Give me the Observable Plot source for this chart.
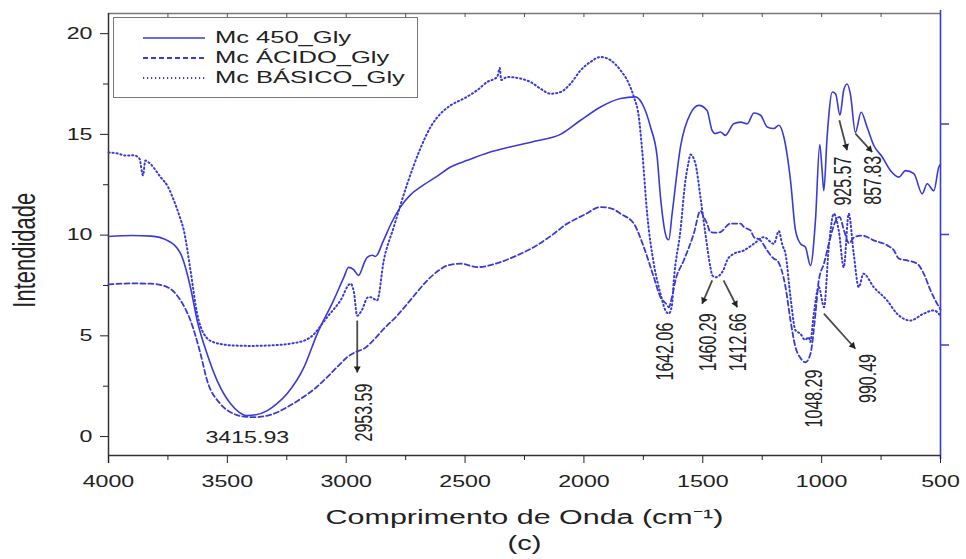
<!DOCTYPE html>
<html>
<head>
<meta charset="utf-8">
<script src="https://cdn.jsdelivr.net/npm/d3@7"></script>
<script src="https://cdn.jsdelivr.net/npm/@observablehq/plot@0.6"></script>
<style>
  body { margin: 0; background: #fff; }
  #chart { position: relative; width: 966px; height: 559px; }
  .legend { position: absolute; left: 113px; top: 17px; width: 305px; height: 81px;
            border: 1.5px solid #777; background: #fff; box-sizing: border-box;
            font-family: 'Liberation Sans', Arial, sans-serif; font-size: 17px; color: #222; }
  .legend svg { position: absolute; left: 29px; }
  .legend span { position: absolute; left: 101px; line-height: 20px; white-space: nowrap;
                 transform: scaleX(1.5); transform-origin: left center; }
</style>
</head>
<body>
<div id="chart"></div>
<script>
// FTIR spectra of the three glycerol-treated samples, [wavenumber (cm-1), intensity]
const seriesNames = ["Mc 450_Gly", "Mc ÁCIDO_Gly", "Mc BÁSICO_Gly"];

const mc450 = [
  [4000, 9.93], [3900, 9.98], [3820, 9.95], [3753, 9.74], [3697, 9.09], [3655, 7.4],
  [3627, 5.76], [3585, 4.1], [3543, 2.78], [3487, 1.64], [3450, 1.2], [3417, 1.04],
  [3380, 1.08], [3332, 1.29], [3290, 1.65], [3248, 2.14], [3178, 3.43], [3122, 5.1],
  [3053, 6.76], [3010, 7.9], [2990, 8.4], [2970, 8.3], [2948, 8.0], [2925, 8.6],
  [2912, 8.9], [2890, 9.0], [2877, 8.94], [2843, 9.74], [2810, 10.6], [2772, 11.39],
  [2730, 12.0], [2688, 12.38], [2620, 12.9], [2561, 13.38], [2491, 13.71], [2400, 14.1],
  [2337, 14.3], [2212, 14.65], [2099, 15.0], [2014, 15.7], [1930, 16.36], [1846, 16.78],
  [1783, 16.86], [1748, 16.36], [1720, 15.37], [1692, 13.88], [1678, 11.9], [1650, 9.82],
  [1643, 9.77], [1629, 11.06], [1594, 14.37], [1552, 16.03], [1517, 16.44], [1482, 16.19],
  [1461, 15.2], [1447, 15.04], [1426, 15.12], [1405, 14.95], [1370, 15.53], [1341, 15.61],
  [1313, 15.53], [1285, 16.06], [1257, 15.95], [1229, 15.37], [1201, 15.29], [1180, 15.45],
  [1159, 14.87], [1131, 12.72], [1110, 10.23], [1089, 9.57], [1068, 9.4], [1047, 8.49],
  [1026, 10.73], [1008, 14.5], [998, 13.2], [991, 12.2], [977, 14.87], [955, 17.1],
  [941, 17.0], [923, 15.95], [907, 17.2], [893, 17.5], [879, 17.0], [858, 15.1],
  [834, 16.1], [809, 15.37], [781, 14.46], [745, 13.88], [710, 13.2], [675, 12.88],
  [647, 13.2], [612, 13.05], [577, 12.05], [556, 12.55], [528, 12.2], [507, 13.38], [500, 13.5]
];

const mcAcido = [
  [4000, 7.55], [3900, 7.6], [3823, 7.59], [3753, 7.42], [3697, 6.76], [3655, 5.76],
  [3613, 4.11], [3585, 2.78], [3529, 1.62], [3473, 1.13], [3420, 0.98], [3389, 0.96],
  [3305, 1.13], [3250, 1.45], [3192, 1.87], [3130, 2.4], [3080, 2.95], [3030, 3.55],
  [2996, 3.94], [2960, 4.2], [2926, 4.36], [2880, 4.85], [2842, 5.35], [2790, 5.95],
  [2743, 6.59], [2700, 7.2], [2659, 7.75], [2610, 8.25], [2575, 8.49], [2519, 8.58],
  [2449, 8.41], [2351, 8.66], [2280, 9.0], [2211, 9.4], [2140, 9.95], [2070, 10.57],
  [2000, 11.0], [1930, 11.39], [1880, 11.3], [1846, 11.06], [1790, 10.57], [1748, 9.4],
  [1706, 7.91], [1678, 6.92], [1655, 6.6], [1643, 6.42], [1630, 6.9], [1615, 7.75],
  [1580, 8.74], [1538, 10.07], [1510, 11.2], [1496, 10.9], [1482, 10.57], [1468, 10.15],
  [1440, 10.12], [1426, 10.15], [1384, 10.57], [1341, 10.57], [1327, 10.4], [1299, 10.23],
  [1285, 9.9], [1257, 9.74], [1229, 9.24], [1201, 8.83], [1187, 8.74], [1152, 7.42],
  [1131, 5.76], [1110, 4.44], [1089, 3.9], [1068, 3.69], [1047, 4.11], [1026, 6.1],
  [1012, 7.75], [990, 8.6], [965, 9.8], [945, 10.6], [925, 10.9], [905, 10.2],
  [885, 9.6], [862, 9.9], [829, 9.98], [781, 9.74], [724, 9.49], [696, 9.24],
  [675, 8.83], [640, 8.74], [598, 8.58], [570, 8.08], [542, 7.25], [514, 6.59], [500, 6.3]
];

const mcBasico = [
  [4000, 14.1], [3960, 14.05], [3930, 13.95], [3894, 13.96], [3870, 13.8], [3855, 12.97],
  [3845, 13.7], [3830, 13.6], [3781, 12.88], [3750, 12.4], [3725, 11.72], [3700, 10.9],
  [3683, 10.23], [3655, 8.25], [3627, 6.1], [3599, 5.1], [3557, 4.68], [3473, 4.52],
  [3400, 4.5], [3332, 4.52], [3220, 4.64], [3150, 4.93], [3080, 5.93], [3024, 6.76],
  [2982, 7.59], [2968, 7.2], [2954, 6.0], [2933, 6.3], [2910, 6.9], [2898, 6.92],
  [2870, 6.76], [2842, 8.74], [2800, 10.4], [2743, 12.55], [2688, 14.3], [2645, 15.37],
  [2603, 16.03], [2561, 16.44], [2505, 16.78], [2449, 17.19], [2407, 17.6], [2365, 17.85],
  [2354, 18.3], [2348, 17.7], [2323, 17.85], [2267, 17.77], [2225, 17.6], [2183, 17.27],
  [2141, 17.02], [2099, 17.1], [2056, 17.52], [2014, 18.18], [1972, 18.6], [1930, 18.84],
  [1888, 18.68], [1846, 18.18], [1811, 17.52], [1790, 16.86], [1769, 15.86], [1755, 14.2],
  [1734, 11.06], [1706, 8.58], [1678, 7.09], [1657, 6.26], [1643, 6.1], [1630, 6.5],
  [1622, 7.75], [1594, 10.23], [1573, 12.72], [1560, 13.6], [1552, 14.0], [1531, 13.55],
  [1510, 11.9], [1489, 10.07], [1468, 8.41], [1460, 8.0], [1447, 7.91], [1430, 8.0],
  [1412, 8.3], [1398, 8.74], [1370, 9.07], [1327, 9.24], [1285, 9.57], [1243, 9.9],
  [1201, 9.57], [1180, 10.2], [1165, 9.5], [1152, 9.07], [1131, 6.92], [1110, 5.27],
  [1089, 5.1], [1070, 4.8], [1054, 4.93], [1048, 4.7], [1033, 6.1], [1012, 7.42],
  [990, 6.42], [970, 9.4], [949, 11.06], [928, 10.23], [907, 8.41], [886, 11.06],
  [865, 9.07], [844, 7.42], [824, 8.08], [781, 7.42], [725, 6.76], [683, 6.1],
  [627, 5.76], [571, 6.1], [529, 6.26], [500, 6.0]
];

// band assignments written on the spectra
const peakLabels = ["3415.93", "2953.59", "1642.06", "1460.29", "1412.66", "1048.29", "990.49", "925.57", "857.83"];

const xTicks = [4000, 3500, 3000, 2500, 2000, 1500, 1000, 500];
const yTicks = [0, 5, 10, 15, 20];
const xTitle = "Comprimento de Onda (cm⁻¹)";
const yTitle = "Intendidade";
const panelTag = "(c)";

// ---- layout ----
const W = 966, H = 559, mL = 108, mR = 26, mT = 13, mB = 104;
const xMin = 500, xMax = 4000;
const yMin = -0.94, yMax = 21.0;
const blue = "#3a3ad8";
const ink = "#222";
const arrowInk = "#4a4a4a";

const toRows = arr => arr.map(([w, v]) => ({w, v}));

// label placement: [text x, text y, rotation, arrow tail y, arrow head x, arrow head y]
const labelPlacement = {
  "3415.93": [3415.93, -0.05, 0],
  "2953.59": [2924, 1.19, -90, 5.76, 2953.59, 3.18],
  "1642.06": [1657, 4.22, -90],
  "1460.29": [1478, 4.68, -90, 7.75, 1503, 6.59],
  "1412.66": [1352, 4.68, -90, 7.75, 1355, 6.42],
  "1048.29": [1030, 1.89, -90],
  "990.49":  [805, 2.88, -90, 6.1, 858, 4.36],
  "925.57":  [907, 12.68, -90, 15.7, 893, 14.21],
  "857.83":  [781, 12.72, -90, 15.04, 787, 14.12]
};
const labels = peakLabels.map(s => {
  const p = labelPlacement[s];
  return {label: s, value: +s, tx: p[0], ty: p[1], rot: p[2], y1: p[3], x2: p[4], y2: p[5]};
});
const arrows = labels.filter(d => d.y1 !== undefined);

// filled arrowheads: a triangle whose tip sits on the arrow end
const kx = (W - mL - mR) / (xMax - xMin), ky = (H - mT - mB) / (yMax - yMin);
const headR = 2.6, headBack = 2 * Math.sqrt(Math.PI * headR * headR / (3 * Math.sqrt(3)));
const heads = arrows.map(d => {
  const dxp = -(d.x2 - d.value) * kx, dyp = -(d.y2 - d.y1) * ky;
  const L = Math.hypot(dxp, dyp), ux = dxp / L, uy = dyp / L;
  return {w: d.x2 + ux * headBack / kx, v: d.y2 + uy * headBack / ky, rot: Math.atan2(ux, -uy) * 180 / Math.PI};
});

const minorX = d3.range(750, 4000, 500);
const topTicks = d3.range(750, 4000, 250);
const minorY = [2.5, 7.5, 12.5, 17.5];
const rightTicks = [1, 2, 3].map(k => yMin + (yMax - yMin) * k / 4);

const chart = Plot.plot({
  width: W,
  height: H,
  marginLeft: mL,
  marginRight: mR,
  marginTop: mT,
  marginBottom: mB,
  style: {fontFamily: "'Liberation Sans', Arial, sans-serif", fontSize: "16px", color: "#222", background: "#fff"},
  x: {domain: [xMax, xMin]},
  y: {domain: [yMin, yMax]},
  marks: [
    // frame
    Plot.ruleY([yMax], {stroke: "#777", strokeWidth: 1.3}),
    Plot.ruleX(topTicks, {x: d => d, y1: yMax, y2: yMax - 0.2, stroke: "#555"}),
    Plot.ruleX([xMax], {stroke: "#333", strokeWidth: 1.5, y1: yMin - 0.4, y2: yMax}),
    Plot.ruleY([yMin], {stroke: "#333", strokeWidth: 1.5}),
    Plot.ruleX([xMin], {stroke: blue, strokeWidth: 1.6, y1: yMin - 0.2, y2: yMax + 0.15}),
    Plot.axisX({ticks: xTicks, tickSize: 8, tickPadding: 12, tickFormat: d => String(d), label: null}),
    Plot.axisX({ticks: minorX, tickSize: 5, tickFormat: () => "", label: null}),
    Plot.axisY({ticks: yTicks, tickSize: 8, tickPadding: 8, tickFormat: d => String(d), label: null}),
    Plot.axisY({ticks: minorY, tickSize: 5, tickFormat: () => "", label: null}),
    Plot.axisY({anchor: "right", ticks: rightTicks, tickSize: 8, tickFormat: () => "", label: null, stroke: blue, strokeWidth: 1.5}),
    // spectra
    Plot.line(toRows(mcAcido), {x: "w", y: "v", stroke: blue, strokeWidth: 1.8, strokeDasharray: "5,3", curve: "monotone-x"}),
    Plot.line(toRows(mcBasico), {x: "w", y: "v", stroke: blue, strokeWidth: 2, strokeDasharray: "1.2,2.8", curve: "monotone-x"}),
    Plot.line(toRows(mc450), {x: "w", y: "v", stroke: blue, strokeWidth: 1.6, curve: "monotone-x"}),
    // peak annotations
    Plot.link(arrows, {x1: "value", y1: "y1", x2: "x2", y2: "y2", stroke: arrowInk, strokeWidth: 1.8}),
    Plot.dot(heads, {x: "w", y: "v", symbol: "triangle", r: headR, rotate: "rot", fill: "#222", stroke: null}),
    Plot.text(labels, {x: "tx", y: "ty", text: "label", rotate: "rot", fontSize: 16, fill: ink}),
    // titles
    Plot.text([xTitle], {frameAnchor: "bottom", dy: 68, fontSize: 21, fill: ink}),
    Plot.text([panelTag], {frameAnchor: "bottom", dy: 94, fontSize: 20, fill: ink}),
    Plot.text([yTitle], {x: () => xMax, y: () => 9.25, dx: -84, rotate: -90, fontSize: 22, fill: ink})
  ]
});

const host = document.getElementById("chart");
host.appendChild(chart);

// widen every glyph run horizontally, keeping each label's anchor in place
function widenText(svg, s) {
  for (const t of Array.from(svg.querySelectorAll("text"))) {
    const b = t.getBBox();
    if (!b.width) continue;
    const tl = t.transform.baseVal;
    const m = tl.numberOfItems ? tl.consolidate().matrix : svg.createSVGMatrix();
    const xs = [[b.x, b.y], [b.x + b.width, b.y], [b.x, b.y + b.height], [b.x + b.width, b.y + b.height]]
      .map(([x, y]) => m.a * x + m.c * y + m.e);
    const x0 = Math.min(...xs), x1 = Math.max(...xs);
    const rotated = Math.abs(m.b) > 1e-6;
    const anchor = getComputedStyle(t).textAnchor;
    const px = rotated || anchor === "middle" ? (x0 + x1) / 2 : anchor === "end" ? x1 : x0;
    const g = document.createElementNS("http://www.w3.org/2000/svg", "g");
    g.setAttribute("transform", `translate(${px},0) scale(${s},1) translate(${-px},0)`);
    t.parentNode.insertBefore(g, t);
    g.appendChild(t);
  }
}
widenText(chart, 1.45);

// legend box
const legend = document.createElement("div");
legend.className = "legend";
const dashes = [null, "5,3", "1.2,2.8"];
const widths = [1.6, 1.8, 2];
seriesNames.forEach((name, i) => {
  const cy = 20 + i * 20;
  const sw = document.createElementNS("http://www.w3.org/2000/svg", "svg");
  sw.setAttribute("width", 62);
  sw.setAttribute("height", 6);
  sw.style.top = (cy - 3) + "px";
  const ln = document.createElementNS("http://www.w3.org/2000/svg", "line");
  ln.setAttribute("x1", 0); ln.setAttribute("x2", 62);
  ln.setAttribute("y1", 3); ln.setAttribute("y2", 3);
  ln.setAttribute("stroke", blue);
  ln.setAttribute("stroke-width", widths[i]);
  if (dashes[i]) ln.setAttribute("stroke-dasharray", dashes[i]);
  sw.appendChild(ln);
  legend.appendChild(sw);
  const sp = document.createElement("span");
  sp.textContent = name;
  sp.style.top = (cy - 10) + "px";
  legend.appendChild(sp);
});
host.appendChild(legend);
</script>
</body>
</html>
